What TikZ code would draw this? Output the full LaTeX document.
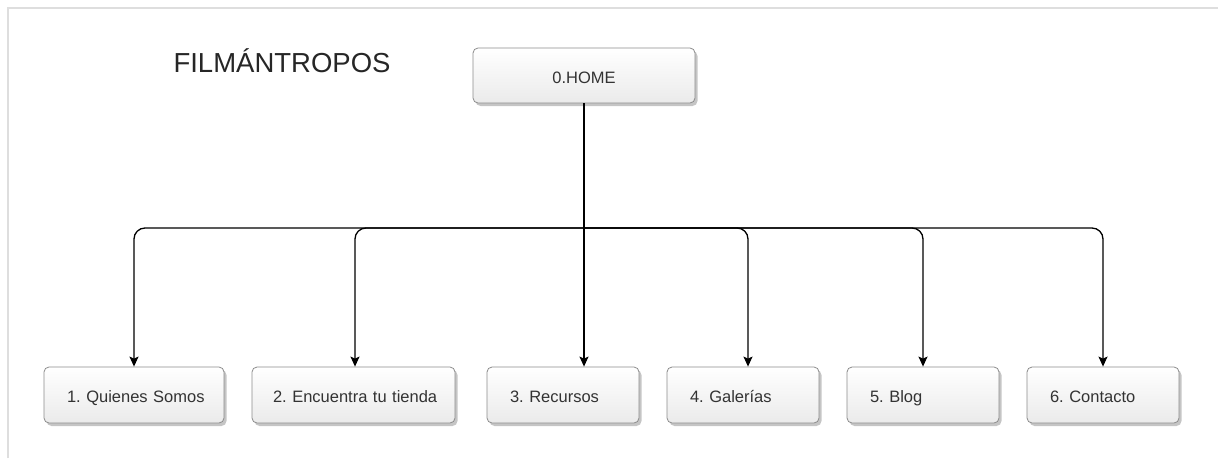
\documentclass[tikz,border=0pt]{standalone}
\usepackage{fontspec}
\setmainfont{Liberation Sans}
\usetikzlibrary{arrows.meta,shadows}

\begin{document}
\begin{tikzpicture}[x=1pt,y=-1pt]
\tikzset{
  pagebox/.style={draw=black!45, line width=0.8pt, rounded corners=5pt,
    top color=white, bottom color=black!8,
    drop shadow={shadow xshift=2.5pt, shadow yshift=-3pt, fill=black!45, opacity=0.5},
    minimum height=56pt, inner xsep=23pt, inner ysep=0pt, align=left,
    text height=15pt, text depth=0pt,
    execute at begin node={\frenchspacing\hyphenpenalty=10000},
    font=\fontsize{16.5}{20}\selectfont, text=black!80},
  link/.style={draw=black, line width=1.3pt, rounded corners=11pt,
    -{Stealth[length=10pt,width=9pt,inset=2pt]}},
  trunk/.style={draw=black, line width=1.3pt},
  frame/.style={draw=black!13, line width=2pt}
}
\useasboundingbox (0,0) rectangle (1218,458);
\draw[frame] (8,458) -- (8,8) -- (1218,8);
\node[anchor=base west, font=\fontsize{27.5}{32}\selectfont, text=black!85] (title) at (170,72) {FILMÁNTROPOS};
\node[pagebox, minimum width=222pt, align=center, inner xsep=0pt, minimum height=55pt] (home) at (584,75.5) {0.HOME};
\node[pagebox, text width=142pt, inner xsep=19pt] (c1) at (134,395) {\hspace*{4pt}1. Quienes Somos};
\node[pagebox, text width=171pt, inner xsep=16pt] (c2) at (353.5,395) {\hspace*{5pt}2. Encuentra tu tienda};
\node[pagebox, text width=106pt] (c3) at (563,395) {3. Recursos};
\node[pagebox, text width=106pt] (c4) at (743,395) {4. Galerías};
\node[pagebox, text width=106pt] (c5) at (923,395) {5. Blog};
\node[pagebox, text width=106pt] (c6) at (1103,395) {6. Contacto};
\coordinate (bus) at (584,228);
\draw[trunk] (home.south) -- (bus);
\draw[link] (bus) -| (c1.north);
\draw[link] (bus) -| ([xshift=1.5pt]c2.north);
\draw[link] (bus) -- (bus |- c3.north);
\draw[link] (bus) -| ([xshift=5pt]c4.north);
\draw[link] (bus) -| (c5.north);
\draw[link] (bus) -| (c6.north);
\end{tikzpicture}
\end{document}
